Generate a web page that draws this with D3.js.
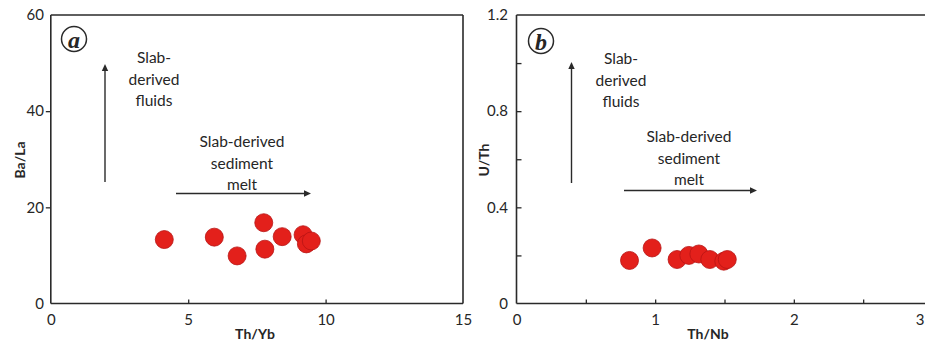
<!DOCTYPE html>
<html><head><meta charset="utf-8">
<script src="https://cdn.jsdelivr.net/npm/d3@7"></script>
<style>
html,body{margin:0;padding:0;background:#fff;}
svg text{font-family:Lato,"Open Sans",sans-serif;fill:#262626;}
</style></head>
<body>
<svg id="chart" width="925" height="342"></svg>
<script>
// Panel a data: Th/Yb vs Ba/La
const aThYb = [4.13, 5.95, 6.78, 7.75, 7.79, 8.42, 9.18, 9.30, 9.48];
const aBaLa = [13.3, 13.8, 9.9, 16.8, 11.3, 13.9, 14.3, 12.4, 13.0];
// Panel b data: Th/Nb vs U/Th
const bThNb = [0.815, 0.978, 1.158, 1.243, 1.315, 1.394, 1.495, 1.52];
const bUTh  = [0.179, 0.231, 0.183, 0.200, 0.206, 0.183, 0.176, 0.183];

const aXTicks = [0, 5, 10, 15];
const aYTicks = [0, 20, 40, 60];
const bXTicks = [0, 0.5, 1, 1.5, 2, 2.5, 3];
const bYTicks = [0, 0.2, 0.4, 0.6, 0.8, 1.0, 1.2];

const svg = d3.select("#chart");
const ink = "#2a2a2a";
const dotFill = "#e3201b", dotStroke = "#b81414";

function panel(cfg){
  const g = svg.append("g");
  const x = d3.scaleLinear().domain(cfg.xDomain).range([cfg.left, cfg.right]);
  const y = d3.scaleLinear().domain(cfg.yDomain).range([cfg.bottom, cfg.top]);

  // Axes
  const xAxis = d3.axisBottom(x).tickValues(cfg.xTicks).tickSizeOuter(0)
      .tickSizeInner(-4).tickPadding(12).tickFormat(d => cfg.xLabelTicks.includes(d) ? d3.format("")(d) : "");
  const xg = g.append("g").attr("transform", `translate(0,${cfg.bottom})`).call(xAxis);
  xg.select(".domain").remove();
  xg.selectAll(".tick line").attr("stroke", ink).attr("stroke-width", 1.3)
    .filter(d => d === cfg.xDomain[0] || d === cfg.xDomain[1]).remove();
  xg.selectAll(".tick text").attr("font-size", 15).attr("fill", ink).attr("dy", "0.71em")
    .attr("y", 11);
  // keep the last, edge-clipped label visible inside the page
  if (cfg.clipLastLabel) {
    xg.selectAll(".tick text").filter(d => d === cfg.xDomain[1])
      .attr("text-anchor", "end").attr("x", 924 - x(cfg.xDomain[1]));
  }

  const yAxis = d3.axisLeft(y).tickValues(cfg.yTicks).tickSizeOuter(0)
      .tickSizeInner(cfg.yInward ? -5 : 5).tickPadding(cfg.yInward ? 12 : 6)
      .tickFormat(d => cfg.yLabelTicks.includes(d) ? cfg.yFmt(d) : "");
  const yg = g.append("g").attr("transform", `translate(${cfg.left},0)`).call(yAxis);
  yg.select(".domain").remove();
  yg.selectAll(".tick line").attr("stroke", ink).attr("stroke-width", 1.3)
    .filter(d => d === cfg.yDomain[0] || d === cfg.yDomain[1]).remove();
  yg.selectAll(".tick text").attr("font-size", 15).attr("fill", ink).attr("x", cfg.yLabelX - cfg.left);

  // Frame
  const fr = g.append("g").attr("fill", "none").attr("stroke", ink).attr("stroke-width", 1.6);
  fr.append("line").attr("x1", cfg.left).attr("x2", cfg.frameRight).attr("y1", cfg.top).attr("y2", cfg.top);
  fr.append("line").attr("x1", cfg.left).attr("x2", cfg.frameRight).attr("y1", cfg.bottom).attr("y2", cfg.bottom);
  fr.append("line").attr("x1", cfg.left).attr("x2", cfg.left).attr("y1", cfg.top).attr("y2", cfg.bottom);
  if (cfg.rightBorder)
    fr.append("line").attr("x1", cfg.frameRight).attr("x2", cfg.frameRight).attr("y1", cfg.top).attr("y2", cfg.bottom);

  // Axis titles
  g.append("text").attr("x", cfg.xTitlePos[0]).attr("y", cfg.xTitlePos[1])
    .attr("text-anchor", "middle").attr("dominant-baseline", "central")
    .attr("font-size", 14).attr("font-weight", "bold").text(cfg.xTitle);
  g.append("text").attr("transform", `translate(${cfg.yTitlePos[0]},${cfg.yTitlePos[1]}) rotate(-90)`)
    .attr("text-anchor", "middle").attr("dominant-baseline", "central")
    .attr("font-size", 14).attr("font-weight", "bold").text(cfg.yTitle);

  // Panel label
  g.append("circle").attr("cx", cfg.labelPos[0]).attr("cy", cfg.labelPos[1]).attr("r", 12.5)
    .attr("fill", "none").attr("stroke", ink).attr("stroke-width", 1.5);
  g.append("text").attr("x", cfg.labelPos[0]).attr("y", cfg.labelPos[1] + 1)
    .attr("text-anchor", "middle").attr("dominant-baseline", "central")
    .style("font-family", "'Liberation Serif','DejaVu Serif',serif")
    .attr("font-size", 24).attr("font-style", "italic").attr("font-weight", "bold")
    .attr("fill", ink).text(cfg.label);

  // Arrows
  const va = cfg.vArrow, ha = cfg.hArrow;
  g.append("line").attr("x1", va.x).attr("x2", va.x).attr("y1", va.y1).attr("y2", va.y2 + 4)
    .attr("stroke", ink).attr("stroke-width", 1.4);
  g.append("path").attr("d", `M${va.x},${va.y2} L${va.x-3.2},${va.y2+7} L${va.x+3.2},${va.y2+7} Z`).attr("fill", ink);
  g.append("line").attr("x1", ha.x1).attr("x2", ha.x2 - 4).attr("y1", ha.y).attr("y2", ha.y)
    .attr("stroke", ink).attr("stroke-width", 1.4);
  g.append("path").attr("d", `M${ha.x2},${ha.y} L${ha.x2-7},${ha.y-3.2} L${ha.x2-7},${ha.y+3.2} Z`).attr("fill", ink);

  // Annotation texts
  cfg.notes.forEach(n => {
    n.lines.forEach((t, i) => {
      g.append("text").attr("x", n.x).attr("y", n.y + i * n.dy)
        .attr("text-anchor", "middle").attr("dominant-baseline", "central")
        .attr("font-size", 15.5).text(t);
    });
  });

  // Points
  g.append("g").selectAll("circle").data(d3.zip(cfg.xs, cfg.ys)).join("circle")
    .attr("cx", d => x(d[0])).attr("cy", d => y(d[1])).attr("r", 9)
    .attr("fill", dotFill).attr("stroke", dotStroke).attr("stroke-width", 0.8);
}

panel({
  xDomain: [0, 15], yDomain: [0, 60],
  left: 50.8, right: 463, top: 15, bottom: 303.5, frameRight: 463, rightBorder: true,
  xTicks: aXTicks, xLabelTicks: aXTicks, yTicks: aYTicks, yLabelTicks: aYTicks,
  yFmt: d3.format(""), yInward: false, yLabelX: 44,
  xs: aThYb, ys: aBaLa,
  xTitle: "Th/Yb", xTitlePos: [255, 333], yTitle: "Ba/La", yTitlePos: [19, 160],
  label: "a", labelPos: [74, 39],
  vArrow: {x: 105, y1: 182, y2: 64}, hArrow: {x1: 176, x2: 311, y: 193.5},
  notes: [
    {x: 154, y: 57, dy: 21.5, lines: ["Slab-", "derived", "fluids"]},
    {x: 242, y: 141, dy: 21.5, lines: ["Slab-derived", "sediment", "melt"]}
  ]
});

panel({
  xDomain: [0, 3], yDomain: [0, 1.2],
  left: 516.5, right: 932.5, top: 15, bottom: 303.5, frameRight: 925, rightBorder: false,
  clipLastLabel: true,
  xTicks: bXTicks, xLabelTicks: [0, 1, 2, 3], yTicks: bYTicks, yLabelTicks: [0, 0.4, 0.8, 1.2],
  yFmt: d => d === 0 ? "0" : d3.format(".1f")(d), yInward: true, yLabelX: 508,
  xs: bThNb, ys: bUTh,
  xTitle: "Th/Nb", xTitlePos: [708, 333], yTitle: "U/Th", yTitlePos: [483, 160],
  label: "b", labelPos: [541, 41],
  vArrow: {x: 571.5, y1: 183, y2: 62}, hArrow: {x1: 624, x2: 757, y: 190.5},
  notes: [
    {x: 621, y: 58, dy: 21.5, lines: ["Slab-", "derived", "fluids"]},
    {x: 689, y: 136, dy: 21.7, lines: ["Slab-derived", "sediment", "melt"]}
  ]
});
</script>
</body></html>
